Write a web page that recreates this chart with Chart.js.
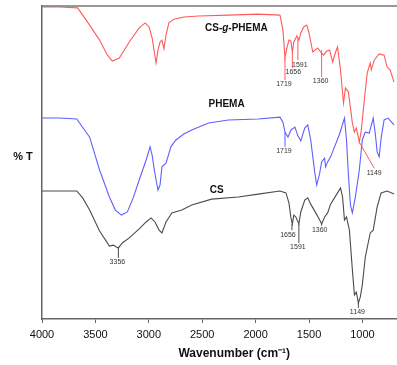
<!DOCTYPE html>
<html>
<head>
<meta charset="utf-8">
<script src="https://cdn.jsdelivr.net/npm/chart.js@4.4.0/dist/chart.umd.min.js"></script>
<style>
  html, body { margin: 0; padding: 0; background: #fff; overflow: hidden; width: 397px; height: 365px; }
  canvas { display: block; }
</style>
</head>
<body>
<canvas id="chart1" width="430" height="365"></canvas>
<script>
// FTIR spectra, wavenumber (cm-1) vs %T (offset, arbitrary units)
const xTicks = [4000, 3500, 3000, 2500, 2000, 1500, 1000, 500];
const seriesNames = ['CS-g-PHEMA', 'PHEMA', 'CS'];

const csgPhemaWn = [4000,3833,3666,3554,3461,3387,3341,3276,3183,3090,3034,2997,2969,2951,2932,2914,2895,2877,2858,2839,2812,2765,2672,2533,2254,1976,1772,1744,1725,1707,1688,1669,1656,1642,1614,1595,1577,1549,1521,1502,1465,1419,1391,1363,1335,1307,1279,1251,1233,1205,1177,1159,1131,1094,1075,1057,1029,1010,982,955,927,917,890,843,797,769,741,704];
const csgPhemaT = [99.7,99.7,99.4,93.9,89.1,84.3,82.4,83.4,88.5,93.0,94.6,93.3,89.8,85.9,81.8,85.9,88.5,89.1,86.3,90.7,94.6,95.8,96.5,96.8,97.1,97.4,97.1,92.3,83.4,86.6,89.1,88.8,85.3,88.5,90.4,89.1,91.4,93.3,93.9,91.7,85.3,86.6,85.3,84.3,85.6,85.9,82.1,85.3,86.9,79.6,69.0,73.8,72.5,62.6,59.7,61.0,56.5,60.4,70.0,78.6,81.8,79.6,82.7,84.7,84.3,80.5,79.6,75.7];

const phemaWn = [4000,3833,3675,3554,3461,3369,3313,3257,3201,3146,3090,3025,2988,2969,2951,2932,2914,2895,2877,2839,2793,2747,2672,2598,2440,2254,1976,1772,1744,1725,1697,1669,1632,1604,1577,1540,1512,1484,1447,1428,1400,1382,1354,1345,1326,1298,1261,1214,1168,1149,1131,1112,1094,1066,1029,1001,973,936,899,880,862,843,825,797,760,704];
const phemaT = [64.2,64.2,63.9,58.1,47.6,39.0,34.8,33.2,34.2,38.7,44.4,50.8,55.0,52.4,48.2,44.4,41.2,42.8,48.6,49.8,55.0,57.2,59.1,60.4,62.6,63.6,63.9,64.5,62.9,59.7,58.1,60.4,61.3,58.5,56.9,61.0,62.0,57.2,47.0,42.8,46.6,50.2,51.4,48.6,50.2,51.8,55.0,59.1,64.2,57.2,46.0,36.4,33.9,39.0,47.6,57.2,59.7,59.4,64.2,59.4,53.4,51.8,57.8,63.6,64.2,62.0];

const csWn = [4000,3833,3675,3619,3554,3461,3369,3331,3304,3285,3248,3183,3090,3025,2979,2942,2904,2877,2839,2784,2691,2598,2412,2162,1976,1772,1716,1688,1669,1656,1642,1623,1595,1577,1540,1512,1484,1437,1400,1382,1354,1326,1298,1233,1205,1186,1168,1149,1122,1094,1075,1057,1038,1020,1001,973,927,899,862,825,769,704];
const csT = [40.9,40.9,40.9,38.7,34.8,28.1,23.3,23.6,23.0,22.7,24.3,25.9,28.8,31.0,32.3,31.0,28.4,27.5,31.0,33.9,34.8,36.4,38.3,39.0,39.9,40.9,40.3,37.1,32.3,30.4,33.2,32.6,30.4,34.2,38.0,38.7,36.7,33.9,31.6,30.4,32.6,33.9,36.7,40.3,41.9,39.0,31.6,32.6,28.4,15.7,7.7,8.6,5.1,7.0,10.9,19.8,27.5,28.4,35.8,40.3,40.9,39.9];

// peak markers: series index, text, wavenumber on the curve
const peakSeries = [0, 0, 0, 0, 0, 1, 2, 2, 2, 2, 2];
const peakText = ['1719', '1656', '1591', '1360', '1149', '1719', '3356', '1656', '1591', '1360', '1149'];
const peakWn = [1725, 1656, 1604, 1382, 1029, 1725, 3285, 1660, 1595, 1382, 1038];
const peakFromT = [83.4, 85.3, 89.5, 85.9, 56.5, 59.7, 22.7, 30.4, 30.4, 30.4, 5.1];
// where the marker line ends and the text sits
const peakEndWn = [1725, 1656, 1604, 1382, 890, 1725, 3285, 1660, 1595, 1382, 1038];
const peakEndT = [76.4, 80.2, 82.7, 77.3, 48.2, 55.0, 19.5, 28.4, 24.3, 29.8, 3.5];
const peakTextWn = [1735, 1647, 1586, 1391, 890, 1735, 3294, 1697, 1604, 1400, 1047];

const colors = ['rgb(255,90,90)', 'rgb(95,95,255)', 'rgb(75,75,75)'];
const namePos = [[2180, 93.0], [2272, 68.7], [2365, 41.2]];
const FONT = '"Liberation Sans", Arial, sans-serif';

function toPoints(xs, ys) {
    return xs.map((x, i) => ({ x: x, y: ys[i] }));
}

const annotations = {
    id: 'annotations',
    afterDatasetsDraw(chart) {
        const ctx = chart.ctx;
        const xs = chart.scales.x;
        const ys = chart.scales.y;
        const area = chart.chartArea;
        ctx.save();

        // top frame line
        ctx.strokeStyle = '#777';
        ctx.lineWidth = 1.5;
        ctx.beginPath();
        ctx.moveTo(area.left, area.top);
        ctx.lineTo(area.right, area.top);
        ctx.stroke();

        // peak markers
        ctx.lineWidth = 1;
        ctx.font = '7px ' + FONT;
        ctx.textAlign = 'center';
        ctx.textBaseline = 'top';
        for (let i = 0; i < peakText.length; i++) {
            const x0 = xs.getPixelForValue(peakWn[i]);
            const y0 = ys.getPixelForValue(peakFromT[i]);
            const x1 = xs.getPixelForValue(peakEndWn[i]);
            const y1 = ys.getPixelForValue(peakEndT[i]);
            ctx.strokeStyle = colors[peakSeries[i]];
            ctx.beginPath();
            ctx.moveTo(x0, y0);
            ctx.lineTo(x1, y1);
            ctx.stroke();
            ctx.fillStyle = '#333';
            ctx.fillText(peakText[i], xs.getPixelForValue(peakTextWn[i]), y1 + 1);
        }

        // series names
        ctx.fillStyle = '#111';
        ctx.textBaseline = 'middle';
        ctx.textAlign = 'left';
        for (let i = 0; i < seriesNames.length; i++) {
            const cx = xs.getPixelForValue(namePos[i][0]);
            const cy = ys.getPixelForValue(namePos[i][1]);
            let parts;
            if (seriesNames[i].indexOf('-g-') > 0) {
                const p = seriesNames[i].split('-g-');
                parts = [[p[0] + '-', 'bold'], ['g', 'italic bold'], ['-' + p[1], 'bold']];
            } else {
                parts = [[seriesNames[i], 'bold']];
            }
            let total = 0;
            parts.forEach(pt => { ctx.font = pt[1] + ' 10px ' + FONT; total += ctx.measureText(pt[0]).width; });
            let x = cx - total / 2;
            parts.forEach(pt => {
                ctx.font = pt[1] + ' 10px ' + FONT;
                ctx.fillText(pt[0], x, cy);
                x += ctx.measureText(pt[0]).width;
            });
        }

        // y axis title
        ctx.font = 'bold 11px ' + FONT;
        ctx.textAlign = 'center';
        ctx.fillText('% T', 23, ys.getPixelForValue(51.8));
        ctx.restore();
    }
};

const ctx = document.getElementById('chart1').getContext('2d');
const chart1 = new Chart(ctx, {
    type: 'scatter',
    data: {
        datasets: [
            { label: seriesNames[0], data: toPoints(csgPhemaWn, csgPhemaT), borderColor: colors[0] },
            { label: seriesNames[1], data: toPoints(phemaWn, phemaT), borderColor: colors[1] },
            { label: seriesNames[2], data: toPoints(csWn, csT), borderColor: colors[2] },
        ].map(d => Object.assign(d, { showLine: true, pointRadius: 0, borderWidth: 1.1, tension: 0, fill: false })),
    },
    options: {
        responsive: false,
        animation: false,
        events: [],
        layout: { padding: { top: 6, right: 0, left: 0, bottom: 0 } },
        plugins: {
            legend: { display: false },
            tooltip: { enabled: false },
        },
        scales: {
            x: {
                type: 'linear',
                reverse: true,
                min: 400,
                max: 4000,
                afterBuildTicks: (scale) => { scale.ticks = xTicks.map(v => ({ value: v })); },
                afterFit: (scale) => { scale.height = 46; },
                ticks: {
                    autoSkip: false,
                    maxRotation: 0,
                    padding: 5,
                    color: '#111',
                    font: { family: FONT, size: 11 },
                    callback: (v) => String(v),
                },
                grid: { drawOnChartArea: false, drawTicks: true, tickLength: 4, color: '#666', lineWidth: 1 },
                border: { display: true, color: '#666', width: 1.5 },
                title: {
                    display: true,
                    text: 'Wavenumber (cm\u207B\u00B9)',
                    color: '#111',
                    font: { family: FONT, size: 12, weight: 'bold' },
                    padding: { top: 0, bottom: 4 },
                },
            },
            y: {
                min: 0,
                max: 100,
                afterFit: (scale) => { scale.width = 42; },
                ticks: { display: false },
                grid: { display: false },
                border: { display: true, color: '#666', width: 1.5 },
            },
        },
    },
    plugins: [annotations],
});
</script>
</body>
</html>
